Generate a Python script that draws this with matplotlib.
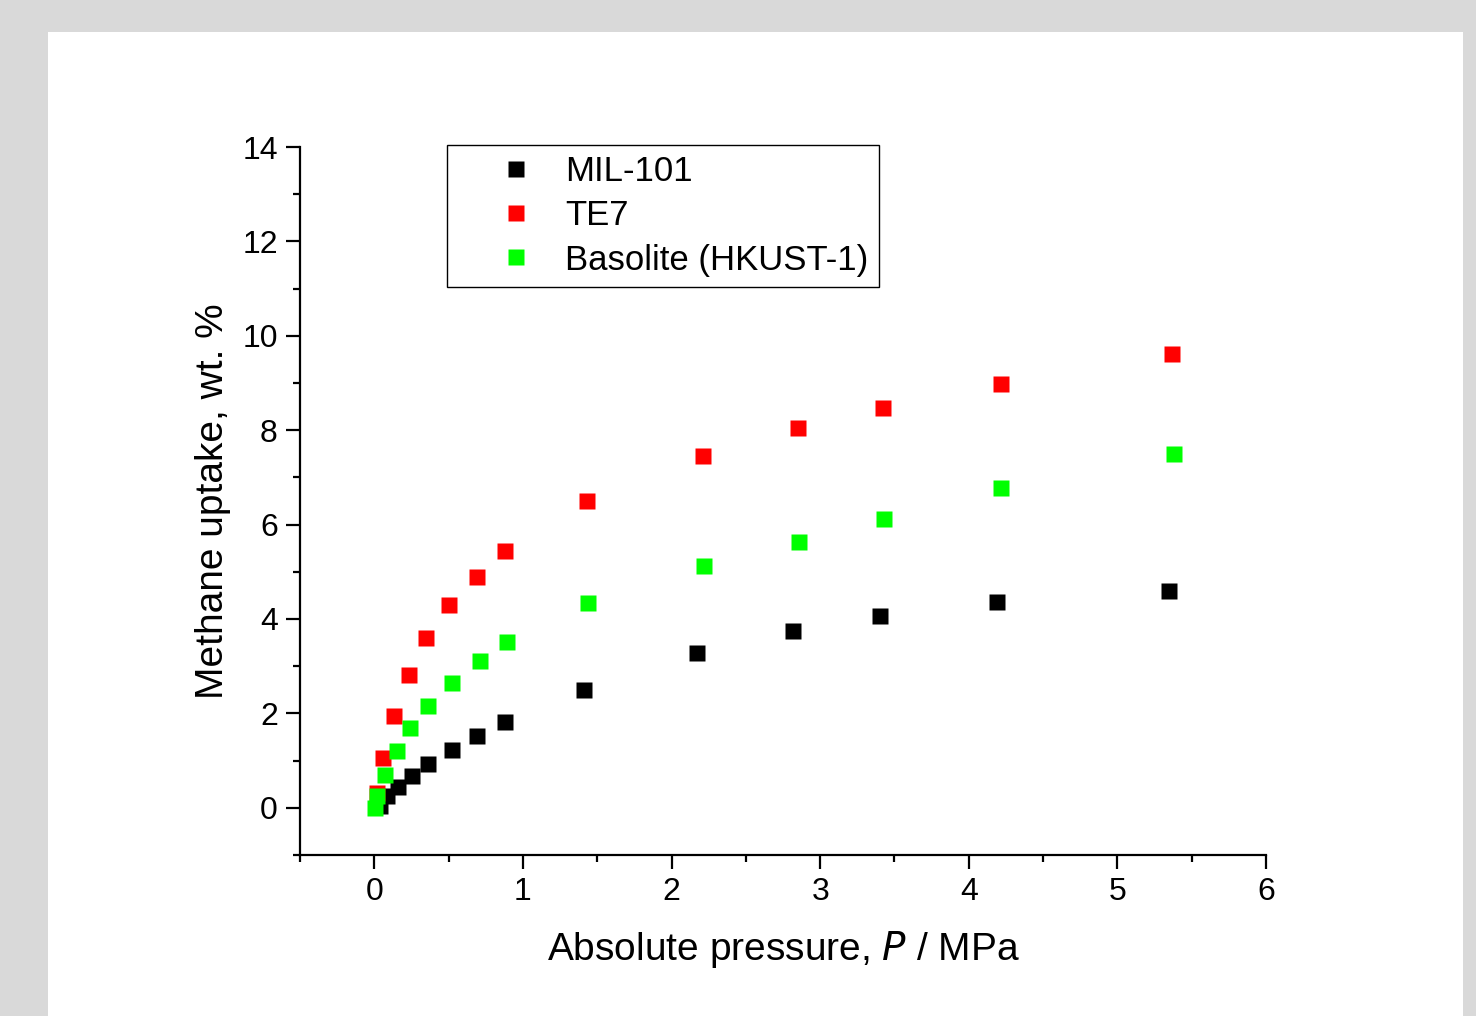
import numpy as np
import matplotlib.pyplot as plt
from matplotlib.patches import Rectangle

plt.rcParams["font.family"] = ["Liberation Sans", "DejaVu Sans"]

# Methane uptake isotherms (pressure in MPa, uptake in wt. %)
p_mil = [0.04, 0.087, 0.16, 0.25, 0.36, 0.52, 0.69, 0.88, 1.41, 2.17, 2.82, 3.40, 4.19, 5.35]
w_mil = [0.04, 0.25, 0.45, 0.68, 0.93, 1.23, 1.53, 1.82, 2.50, 3.27, 3.75, 4.07, 4.35, 4.60]

p_te7 = [0.02, 0.06, 0.13, 0.23, 0.35, 0.50, 0.69, 0.88, 1.43, 2.21, 2.85, 3.42, 4.22, 5.37]
w_te7 = [0.32, 1.06, 1.95, 2.82, 3.59, 4.29, 4.90, 5.45, 6.51, 7.45, 8.04, 8.46, 8.97, 9.61]

p_bas = [0.007, 0.02, 0.07, 0.15, 0.24, 0.36, 0.52, 0.71, 0.89, 1.44, 2.22, 2.86, 3.43, 4.22, 5.38]
w_bas = [0.0, 0.25, 0.70, 1.21, 1.70, 2.16, 2.65, 3.12, 3.52, 4.33, 5.13, 5.64, 6.11, 6.77, 7.49]

fig = plt.figure(figsize=(14.76, 10.16), dpi=100, facecolor="#d9d9d9")
# white page behind the plot
fig.patches.append(Rectangle((48 / 1476, 0), (1463 - 48) / 1476, 1 - 32 / 1016,
                             transform=fig.transFigure, facecolor="white",
                             edgecolor="none", zorder=-10))

ax = fig.add_axes([0.2033, 0.1585, 0.8577 - 0.2033, 0.8553 - 0.1585])
ax.set_facecolor("none")

ms = 11
ax.plot(p_mil, w_mil, "s", color="black", ms=ms, mec="none", label="MIL-101")
ax.plot(p_te7, w_te7, "s", color="#ff0000", ms=ms, mec="none", label="TE7")
ax.plot(p_bas, w_bas, "s", color="#00ff00", ms=ms, mec="none", label="Basolite (HKUST-1)")

ax.set_xlim(-0.5, 6)
ax.set_ylim(-1, 14)
ax.set_xticks(np.arange(0, 7, 1))
ax.set_xticks(np.arange(-0.5, 6.01, 0.5), minor=True)
ax.set_yticks(np.arange(0, 15, 2))
ax.set_yticks(np.arange(-1, 14.01, 1), minor=True)

for side in ("top", "right"):
    ax.spines[side].set_visible(False)
for side in ("left", "bottom"):
    ax.spines[side].set_linewidth(1.6)

ax.tick_params(which="major", direction="out", length=10, width=1.6, labelsize=23, pad=6)
ax.tick_params(which="minor", direction="out", length=5, width=1.6)

ax.set_xlabel("Absolute pressure, $\\it{P}$ / MPa", fontsize=28, labelpad=16)
ax.set_ylabel("Methane uptake, wt. %", fontsize=28, labelpad=8)

leg = ax.legend(loc="upper left", bbox_to_anchor=(0.152, 1.003), borderaxespad=0,
                fontsize=25, fancybox=False, framealpha=1, edgecolor="black",
                handletextpad=-0.3, labelspacing=0.32, borderpad=0.3, handlelength=3.4)
leg.get_frame().set_linewidth(1.0)

fig.savefig("out.png", dpi=100, facecolor=fig.get_facecolor())
